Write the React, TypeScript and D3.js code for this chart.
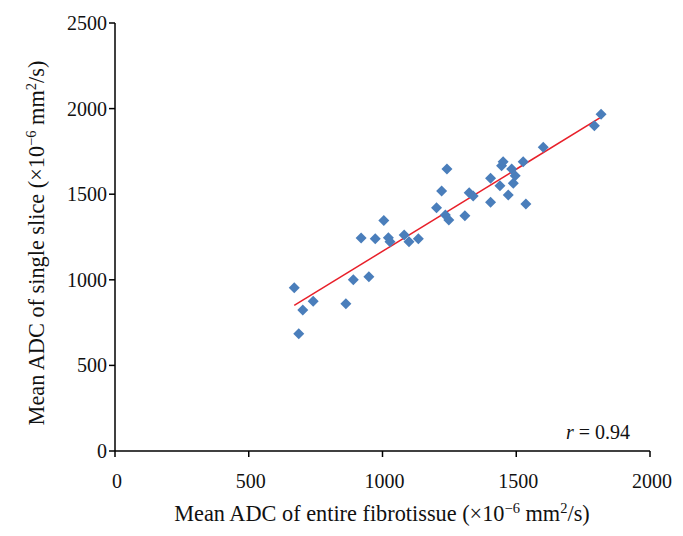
import React from "react";
import * as d3 from "d3";

const xValues = [670, 687, 702, 741, 863, 891, 949, 920, 973, 1005, 1022, 1028, 1081, 1099, 1134, 1202, 1221, 1241, 1235, 1248, 1308, 1324, 1339, 1404, 1404, 1439, 1445, 1451, 1470, 1483, 1489, 1496, 1526, 1536, 1601, 1792, 1817];
const yValues = [954, 685, 824, 874, 860, 1001, 1018, 1244, 1240, 1347, 1246, 1222, 1262, 1222, 1240, 1421, 1519, 1647, 1378, 1349, 1374, 1509, 1489, 1593, 1453, 1550, 1666, 1690, 1495, 1647, 1564, 1608, 1690, 1443, 1774, 1900, 1967];
const xTicks = [0, 500, 1000, 1500, 2000];
const yTicks = [0, 500, 1000, 1500, 2000, 2500];
const trendSlope = 0.959;
const trendIntercept = 207.6;

export default function App() {
  const W = 683, H = 536;
  const x = d3.scaleLinear().domain([0, 2000]).range([115, 650]);
  const y = d3.scaleLinear().domain([0, 2500]).range([451, 23]);
  const font = "'Liberation Serif', 'Times New Roman', serif";
  const xMin = d3.min(xValues) as number;
  const xMax = d3.max(xValues) as number;
  const r = 5.5;
  const diamond = `M0,${-r}L${r},0L0,${r}L${-r},0Z`;
  return (
    <svg width={W} height={H} style={{ position: "absolute", left: 0, top: 0, background: "#fff" }} fontFamily={font}>
      <line x1={x(0)} x2={x(0)} y1={y(2500)} y2={y(0)} stroke="#000" strokeWidth={1.5} />
      <line x1={x(0)} x2={x(2000)} y1={y(0)} y2={y(0)} stroke="#000" strokeWidth={1.5} />
      {yTicks.map((t) => (
        <g key={"y" + t}>
          <line x1={x(0) - 6} x2={x(0)} y1={y(t)} y2={y(t)} stroke="#000" strokeWidth={1.5} />
          <text x={x(0) - 8} y={y(t)} dy="0.35em" textAnchor="end" fontSize={20} fill="#111">{t}</text>
        </g>
      ))}
      {xTicks.map((t) => (
        <g key={"x" + t}>
          <line x1={x(t)} x2={x(t)} y1={y(0)} y2={y(0) + 6} stroke="#000" strokeWidth={1.5} />
          <text x={x(t) + 2} y={y(0) + 37} textAnchor="middle" fontSize={20} fill="#111">{t}</text>
        </g>
      ))}
      <line x1={x(xMin)} y1={y(trendIntercept + trendSlope * xMin)} x2={x(xMax)} y2={y(trendIntercept + trendSlope * xMax)} stroke="#e8202a" strokeWidth={1.5} />
      {xValues.map((v, i) => (
        <path key={i} d={diamond} transform={`translate(${x(v)},${y(yValues[i])})`} fill="#4a7ebb" />
      ))}
      <text x={630} y={439} textAnchor="end" fontSize={20} fill="#111">
        <tspan fontStyle="italic">r</tspan> = 0.94
      </text>
      <text x={382} y={521} textAnchor="middle" fontSize={22.3} fill="#111">
        Mean ADC of entire fibrotissue (×10<tspan dy={-8} fontSize={14.5}>−6</tspan><tspan dy={8}> mm</tspan><tspan dy={-8} fontSize={14.5}>2</tspan><tspan dy={8}>/s)</tspan>
      </text>
      <text transform="translate(44,243) rotate(-90)" textAnchor="middle" fontSize={22.3} fill="#111">
        Mean ADC of single slice (×10<tspan dy={-8} fontSize={14.5}>−6</tspan><tspan dy={8}> mm</tspan><tspan dy={-8} fontSize={14.5}>2</tspan><tspan dy={8}>/s)</tspan>
      </text>
    </svg>
  );
}
